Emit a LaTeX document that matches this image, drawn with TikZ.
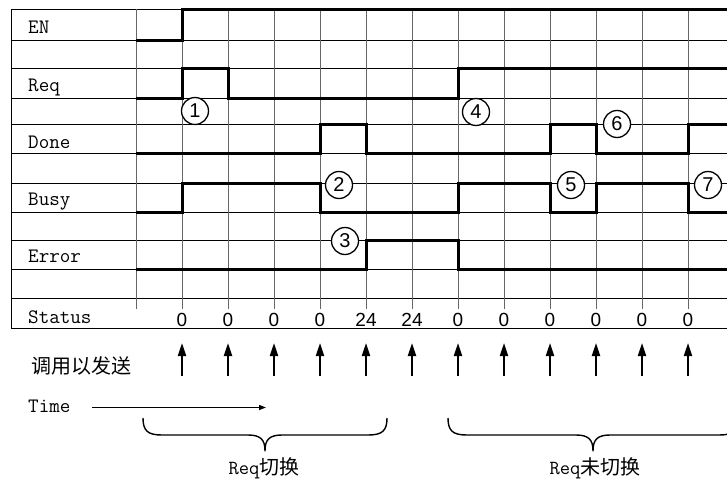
\documentclass[tikz,border=0pt]{standalone}
\usepackage{fontspec}
\setsansfont{Liberation Sans}
\newfontfamily\cjk{Noto Sans CJK SC}
\usetikzlibrary{arrows.meta}
\begin{document}
\begin{tikzpicture}[x=1pt,y=-1pt,
  hgrid/.style={line width=0.8pt,black},
  vgrid/.style={line width=0.8pt,black!60},
  sig/.style={line width=3pt,line join=miter},
  lbl/.style={anchor=base west,inner sep=0pt,font=\ttfamily\fontsize{20.5}{22}\selectfont},
  stat/.style={anchor=base,inner sep=0pt,font=\sffamily\fontsize{19}{20}\selectfont},
  num/.style={circle,draw,fill=white,line width=1.3pt,minimum size=27pt,inner sep=0pt,font=\sffamily\fontsize{20}{22}\selectfont},
  callarrow/.style={line width=2pt,-{Triangle[width=8pt,length=13pt]}},
  brace/.style={line width=1.4pt,line join=round},
  cn/.style={inner sep=0pt,font=\cjk\fontsize{20}{22}\selectfont}
]
\useasboundingbox (0,0) rectangle (727,479);
\clip (0,0) rectangle (727,479);
% grid
\foreach \y in {9,40,68,98,124,153,183,212,240,269,298,328}
  \draw[hgrid] (11,\y) -- (727,\y);
\draw[hgrid] (11,9) -- (11,328);
\foreach \x in {136,182,...,688}
  \draw[vgrid] (\x,9) -- (\x,309);
% signals
\draw[sig] (136,40) -- (182,40) -- (182,9) -- (728,9);
\draw[sig] (136,98) -- (182,98) -- (182,68) -- (228,68) -- (228,98) -- (458,98) -- (458,68) -- (728,68);
\draw[sig] (136,153) -- (320,153) -- (320,124) -- (366,124) -- (366,153) -- (550,153) -- (550,124) -- (596,124) -- (596,153) -- (688,153) -- (688,124) -- (728,124);
\draw[sig] (136,212) -- (182,212) -- (182,183) -- (320,183) -- (320,212) -- (458,212) -- (458,183) -- (550,183) -- (550,212) -- (596,212) -- (596,183) -- (688,183) -- (688,212) -- (728,212);
\draw[sig] (136,269) -- (366,269) -- (366,240) -- (458,240) -- (458,269) -- (728,269);
% labels
\node[lbl] (en) at (28,33) {EN};
\node[lbl] (req) at (28,91) {Req};
\node[lbl] (done) at (28,148) {Done};
\node[lbl] (busy) at (28,205) {Busy};
\node[lbl] (err) at (28,262) {Error};
\node[lbl] (status) at (28,323) {Status};
\node[lbl] (time) at (28,412) {Time};
\node[cn,anchor=west] (call) at (31,366) {调用以发送};
% status values and call arrows
\foreach \x/\v [count=\i] in {182/0,228/0,274/0,320/0,366/24,412/24,458/0,504/0,550/0,596/0,642/0,688/0}{
  \node[stat] (s\i) at (\x,326) {\v};
  \coordinate (ab\i) at (\x,376);
  \coordinate (at\i) at (\x,343);
  \draw[callarrow] (ab\i) -- (at\i);
}
% time arrow
\coordinate (t0) at (92,407.5);
\coordinate (t1) at (266,407.5);
\draw[line width=1.3pt,-{Triangle[width=5pt,length=7pt]}] (t0) -- (t1);
% circled numbers
\node[num] (c1) at (195,111) {1};
\node[num] (c2) at (339,185) {2};
\node[num] (c3) at (345,241) {3};
\node[num] (c4) at (476,112) {4};
\node[num] (c5) at (571,185) {5};
\node[num] (c6) at (617,124) {6};
\node[num] (c7) at (708,185) {7};
% braces
\draw[brace] (143,418) .. controls (143,431) and (148,435) .. (162,435) -- (248,435)
  .. controls (261,435) and (265,440) .. (265,451)
  .. controls (265,440) and (269,435) .. (282,435) -- (368,435)
  .. controls (382,435) and (387,431) .. (387,418);
\draw[brace] (448,418) .. controls (448,431) and (453,435) .. (467,435) -- (576,435)
  .. controls (589,435) and (593,440) .. (593,451)
  .. controls (593,440) and (597,435) .. (610,435) -- (719,435)
  .. controls (733,435) and (738,431) .. (738,418);
\node[cn,anchor=base] (b1) at (264,474) {{\ttfamily Req}切换};
\node[cn,anchor=base] (b2) at (595,474) {{\ttfamily Req}未切换};
\end{tikzpicture}
\end{document}
